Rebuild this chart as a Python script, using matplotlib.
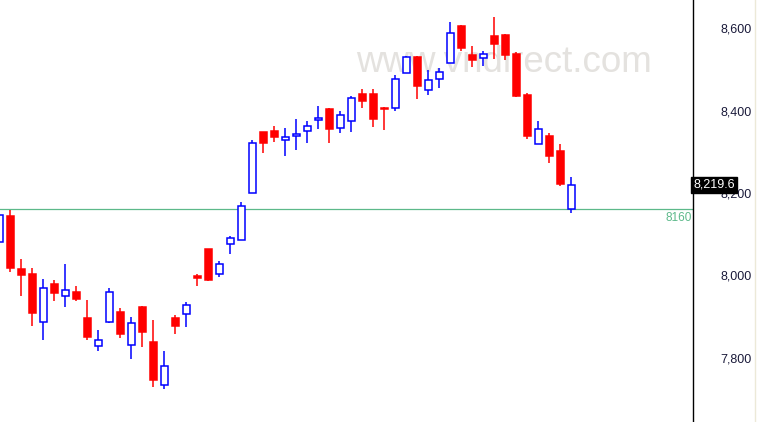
import matplotlib
matplotlib.use("Agg")
import matplotlib.pyplot as plt
import matplotlib.transforms as mtransforms
from matplotlib.lines import Line2D

# OHLC data
opens = [8082, 8144, 8016, 8004, 7887, 7979, 7950, 7960, 7897, 7828,
         7887, 7912, 7831, 7924, 7839, 7734, 7897, 7906, 7999, 8064,
         8003, 8076, 8085, 8199, 8347, 8350, 8329, 8337, 8351, 8377,
         8404, 8358, 8375, 8440, 8440, 8407, 8407, 8490, 8529, 8449,
         8476, 8514, 8605, 8534, 8527, 8581, 8584, 8538, 8438, 8318,
         8338, 8302, 8160]
highs = [8155, 8159, 8040, 8018, 7992, 7989, 8028, 7975, 7941, 7868,
         7970, 7921, 7899, 7926, 7892, 7817, 7904, 7936, 8004, 8065,
         8035, 8096, 8178, 8329, 8348, 8362, 8358, 8379, 8375, 8411,
         8406, 8399, 8436, 8452, 8452, 8408, 8486, 8532, 8532, 8498,
         8503, 8615, 8607, 8557, 8544, 8626, 8586, 8542, 8442, 8375,
         8346, 8319, 8239]
lows = [8078, 8009, 7950, 7878, 7844, 7937, 7924, 7939, 7844, 7818,
        7886, 7849, 7798, 7827, 7730, 7726, 7858, 7876, 7975, 7987,
        7997, 8053, 8085, 8199, 8297, 8324, 8290, 8304, 8322, 8354,
        8320, 8346, 8349, 8407, 8361, 8353, 8400, 8490, 8428, 8438,
        8455, 8514, 8544, 8506, 8509, 8525, 8522, 8433, 8332, 8318,
        8273, 8217, 8152]
closes = [8147, 8017, 8002, 7910, 7969, 7958, 7964, 7944, 7852, 7843,
          7959, 7859, 7884, 7864, 7747, 7781, 7878, 7928, 7995, 7990,
          8027, 8090, 8168, 8320, 8322, 8336, 8335, 8343, 8362, 8381,
          8355, 8389, 8430, 8424, 8380, 8404, 8476, 8529, 8460, 8473,
          8493, 8587, 8552, 8523, 8536, 8562, 8535, 8434, 8339, 8354,
          8290, 8222, 8219.6]

ref_level = 8160
last_label = "8,219.6"
ytick_vals = [7800, 8000, 8200, 8400, 8600]
ytick_labels = ["7,800", "8,000", "8,200", "8,400", "8,600"]
watermark = "www.vndirect.com"

UP = "#0000ff"
DOWN = "#ff0000"

fig = plt.figure(figsize=(7.57, 4.22), dpi=100)
fig.patch.set_facecolor("white")
ax = fig.add_axes([0, 0, 693 / 757, 1])
ax.set_facecolor("white")

n = len(opens)
xs = list(range(n))
width = 0.69
for i in xs:
    o, h, l, c = opens[i], highs[i], lows[i], closes[i]
    up = c >= o
    col = UP if up else DOWN
    ax.vlines(i, l, h, color=col, lw=1.1, zorder=3)
    bottom = min(o, c)
    height = abs(c - o)
    ax.bar(i, height, width=width, bottom=bottom,
           facecolor="white" if up else col, edgecolor=col,
           linewidth=1.1, zorder=4)

ax.set_xlim(0.064, 63.06)
ax.set_ylim(7644.8, 8667.9)

# reference line
ax.axhline(ref_level, color="#5cb98a", lw=0.9, zorder=2)
trans = mtransforms.blended_transform_factory(ax.transAxes, ax.transData)
ax.annotate(str(ref_level), xy=(0.998, ref_level), xycoords=trans,
            xytext=(0, -2), textcoords="offset points",
            ha="right", va="top", color="#5cb98a", fontsize=8.5,
            family="Liberation Sans")

# watermark
ax.text(504 / 693, 1 - 72 / 422, watermark, transform=ax.transAxes,
        ha="center", va="baseline", fontsize=26.5, color="#e4e2df",
        family="Liberation Sans", zorder=0)

# axes styling
for s in ["left", "top", "bottom"]:
    ax.spines[s].set_visible(False)
ax.spines["right"].set_color("black")
ax.spines["right"].set_linewidth(1.0)
ax.set_xticks([])
ax.yaxis.tick_right()
ax.set_yticks(ytick_vals)
ax.set_yticklabels(ytick_labels, family="Liberation Sans", fontsize=9,
                   color="#1a1a3a")
ax.tick_params(axis="y", length=0, pad=20)

# last price label
ax.text(1.0, closes[-1], last_label, transform=trans, ha="left",
        va="center", color="white", fontsize=9, family="Liberation Sans",
        bbox=dict(boxstyle="square,pad=0.15", facecolor="black",
                  edgecolor="black"), zorder=10, clip_on=False)

# beige right border line
fig.add_artist(Line2D([754.5 / 757, 754.5 / 757], [0, 1], color="#ece9d8",
                      lw=1.0, transform=fig.transFigure))

fig.savefig("out.png", dpi=100)
